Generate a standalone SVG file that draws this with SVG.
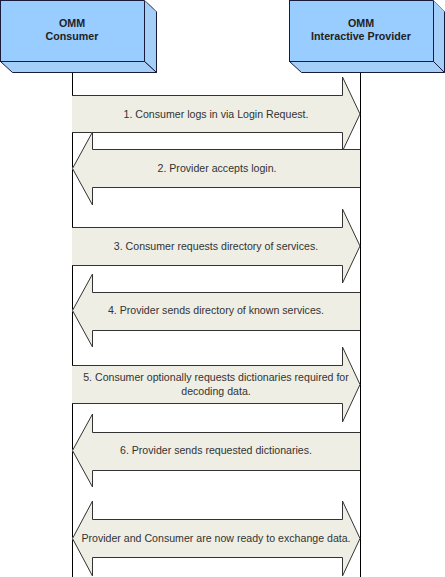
<svg xmlns="http://www.w3.org/2000/svg" width="445" height="577" viewBox="0 0 445 577">
<style>
.face{fill:#99CCFF;stroke:#1a1a3a;stroke-width:1}
.side{fill:#A4CFF8;stroke:#1a1a3a;stroke-width:1}
.edge{fill:none;stroke:#7f8fa0;stroke-width:1}
.life{stroke:#000;stroke-width:1;fill:none}
.afill{fill:#EEEEE4;stroke:none}
.aline{fill:none;stroke:#333;stroke-width:1;stroke-linejoin:miter}
.lbl{font-family:"Liberation Sans",Arial,sans-serif;font-size:10.6px;fill:#333;text-anchor:middle}
.hdr{font-family:"Liberation Sans",Arial,sans-serif;font-size:10.7px;font-weight:bold;fill:#222;text-anchor:middle}
</style>
<rect width="445" height="577" fill="#fff"/>
<g id="lifelines">
<line class="life" x1="72.5" y1="61" x2="72.5" y2="577"/>
<line class="life" x1="360.5" y1="61" x2="360.5" y2="577"/>
</g>
<g id="consumer">
<polygon class="side" points="144.5,0.5 156.5,11.5 156.5,72.5 144.5,61.5"/>
<polygon class="side" points="0.5,61.5 144.5,61.5 156.5,72.5 12.5,72.5"/>
<rect class="face" x="0.5" y="0.5" width="144" height="61"/>
<line class="edge" x1="144.5" y1="0.5" x2="156.5" y2="11.5"/>
<text class="hdr" x="72" y="27">OMM</text>
<text class="hdr" x="72" y="40">Consumer</text>
</g>
<g id="provider">
<polygon class="side" points="433.5,0.5 444.5,11.5 444.5,72.5 433.5,61.5"/>
<polygon class="side" points="289.5,61.5 433.5,61.5 444.5,72.5 301.5,72.5"/>
<rect class="face" x="289.5" y="0.5" width="144" height="61"/>
<line class="edge" x1="433.5" y1="0.5" x2="444.5" y2="11.5"/>
<text class="hdr" x="361" y="27">OMM</text>
<text class="hdr" x="361" y="40">Interactive Provider</text>
</g>
<g id="connectors">
<g id="msg1">
<polygon class="afill" points="72,95 342,95 342,77 360,114 342,151 342,133 72,133"/>
<path class="aline" d="M72,95.5 H342.5 V77 L360,114 L342.5,151 V132.5 H72"/>
<text class="lbl" x="216" y="117.5">1. Consumer logs in via Login Request.</text>
</g>
<g id="msg2">
<polygon class="afill" points="360,149.5 92,149.5 92,132 72,168.5 92,205 92,187.5 360,187.5"/>
<path class="aline" d="M360,149.5 H92.5 V132 L72.5,168.5 L92.5,205 V187.5 H360"/>
<text class="lbl" x="217" y="172">2. Provider accepts login.</text>
</g>
<g id="msg3">
<polygon class="afill" points="72,227 342,227 342,209 360,246 342,283 342,265 72,265"/>
<path class="aline" d="M72,227.5 H342.5 V209 L360,246 L342.5,283 V265.5 H72"/>
<text class="lbl" x="216" y="249.5">3. Consumer requests directory of services.</text>
</g>
<g id="msg4">
<polygon class="afill" points="360,292 92,292 92,274 72,310.5 92,347 92,330 360,330"/>
<path class="aline" d="M360,292.5 H92.5 V274 L72.5,310.5 L92.5,347 V330.5 H360"/>
<text class="lbl" x="216" y="314">4. Provider sends directory of known services.</text>
</g>
<g id="msg5">
<polygon class="afill" points="72,365 342,365 342,347 360,384.5 342,422 342,403.5 72,403.5"/>
<path class="aline" d="M72,365.5 H342.5 V347 L360,384.5 L342.5,422 V403.5 H72"/>
<text class="lbl" x="216" y="380.5">5. Consumer optionally requests dictionaries required for</text>
<text class="lbl" x="216" y="395">decoding data.</text>
</g>
<g id="msg6">
<polygon class="afill" points="360,432 92,432 92,414 72,450.5 92,487 92,470 360,470"/>
<path class="aline" d="M360,432.5 H92.5 V414 L72.5,450.5 L92.5,487 V470.5 H360"/>
<text class="lbl" x="216" y="454">6. Provider sends requested dictionaries.</text>
</g>
<g id="msg7">
<polygon class="afill" points="92,519.5 342,519.5 342,501 360,538.5 342,576 342,557.5 92,557.5 92,576 72,538.5 92,501"/>
<path class="aline" d="M92.5,519.5 H342.5 V501 L360,538.5 L342.5,576 V557.5 H92.5 V576 L72.5,538.5 L92.5,501 Z"/>
<text class="lbl" x="216" y="542">Provider and Consumer are now ready to exchange data.</text>
</g>
</g>
</svg>
